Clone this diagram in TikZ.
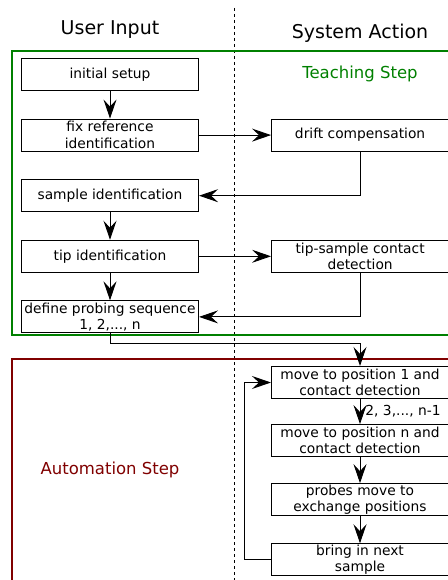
\documentclass[tikz,border=0pt]{standalone}
\usepackage{fontspec}
\setmainfont{DejaVu Sans}
\usetikzlibrary{arrows.meta,positioning}

\begin{document}
\begin{tikzpicture}[x=1pt,y=-1pt,->,>={Stealth[length=19pt,width=13pt,inset=7pt]},
                    node distance=27.5pt,line width=0.9pt,
                    font=\fontsize{13.8}{16.5}\selectfont]
  \tikzstyle{stepbox}=[draw,-,line width=1.1pt,minimum width=177pt,minimum height=32pt,inner sep=0.5pt,align=center]
  \tikzstyle{frame}=[-,line width=2pt]

  \useasboundingbox (0,0) rectangle (447,580);

  % columns
  \draw[-,line width=0.8pt,dash pattern=on 3pt off 3pt] (234,8) -- (234,580);
  \node[font=\fontsize{19}{22}\selectfont] (user)   at (110,30) {User Input};
  \node[font=\fontsize{19}{22}\selectfont] (system) at (360,33) {System Action};

  % teaching step
  \draw[frame, green!50!black] (12,51) rectangle (470,335);
  \node[green!50!black, font=\fontsize{16.5}{19}\selectfont] (teach) at (360,74) {Teaching Step};

  \node[stepbox] (init) at (110,74.5) {initial setup};
  \node[stepbox] (fixref) [below=of init] {fix reference\\identification};
  \node[stepbox] (sample) [below=of fixref] {sample identification};
  \node[stepbox] (tipid) [below=of sample] {tip identification};
  \node[stepbox] (probseq) [below=of tipid] {define probing sequence\\1, 2,..., n};
  \node[stepbox] (drift) [right=72pt of fixref] {drift compensation};
  \node[stepbox] (tipsample) [right=72pt of tipid] {tip-sample contact\\detection};

  % automation step
  \draw[frame, red!50!black] (12,359) rectangle (470,600);
  \node[red!50!black, font=\fontsize{16.5}{19}\selectfont] (auto) at (110,470) {Automation Step};

  \node[stepbox] (move1) at (360,382.5) {move to position 1 and\\contact detection};
  \node[stepbox, node distance=25pt] (moven) [below=of move1] {move to position n and\\contact detection};
  \node[stepbox, node distance=26pt] (probes) [below=of moven] {probes move to\\exchange positions};
  \node[stepbox, node distance=27pt] (bring) [below=of probes] {bring in next\\sample};

  \draw (init) -- (fixref);
  \draw (fixref) -- (drift);
  \draw (drift.south) |- (sample.east);
  \draw (sample) -- (tipid);
  \draw (tipid) -- (tipsample);
  \draw (tipid) -- (probseq);
  \draw (tipsample.south) |- (probseq.east);
  \draw (probseq.south) -- ++(0,10) -| (move1.north);
  \draw (move1) -- node[right, inner sep=5pt] {2, 3,..., n-1} (moven);
  \draw (moven) -- (probes);
  \draw (probes) -- (bring);
  \draw (bring.west) -- ++(-27,0) |- (move1.west);
\end{tikzpicture}
\end{document}
